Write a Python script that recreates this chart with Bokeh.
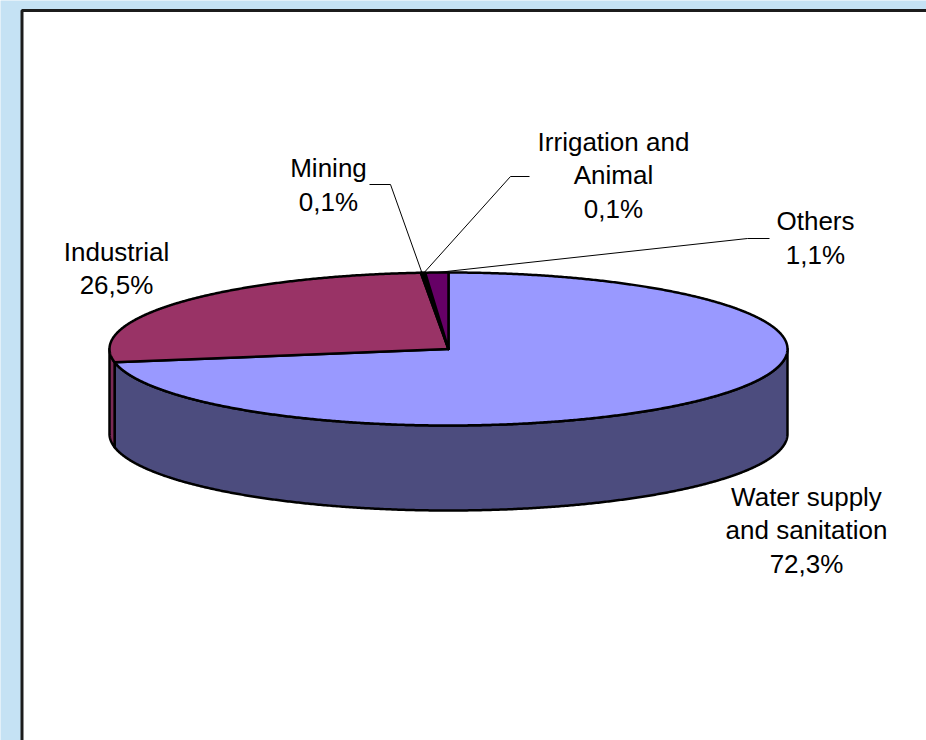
import numpy as np
from bokeh.plotting import figure
from bokeh.models import Range1d
from bokeh.core.properties import value
from bokeh.embed import file_html
from bokeh.resources import INLINE

# ---- data ----
categories = ["Water supply\nand sanitation", "Industrial", "Mining",
              "Irrigation and\nAnimal", "Others"]
shares = [72.3, 26.5, 0.1, 0.1, 1.1]

# ---- style ----
top_colors = ["#9999ff", "#993366", "#ffffcc", "#ccffff", "#660066"]
side_colors = ["#4c4c7e", "#7a2a55", "#7f7f66", "#667f7f", "#330033"]
PAGE_BG = "#c5e2f4"

# ---- layout (page pixel space) ----
CX, CY, RX, RY, DEPTH = 448, 348.5, 339, 76.5, 85
label_pos = [(806, 530), (116, 268), (328, 184.5), (613, 175), (815, 237.5)]
leader_elbows = [None, None,
                 [(369, 184), (390, 184)],
                 [(529, 176), (510, 176)],
                 [(769, 238), (747, 238)]]

W, H = 926, 740
p = figure(width=W, height=H, output_backend="svg", toolbar_location=None,
           x_range=Range1d(0, W), y_range=Range1d(H, 0),
           x_axis_type=None, y_axis_type=None, min_border=0)
p.grid.visible = False
p.outline_line_color = None
p.background_fill_color = PAGE_BG
p.border_fill_color = PAGE_BG

# white chart area with dark frame (extends past right/bottom edge)
p.quad(left=[21.5], right=[1200], top=[10], bottom=[1200],
       fill_color="white", line_color="#1c1c1c", line_width=3)

total = sum(shares)
bounds = np.concatenate([[0], np.cumsum(shares) / total * 360.0])


def pt(theta_deg, dy=0.0):
    t = np.radians(theta_deg)
    return CX + RX * np.sin(t), CY - RY * np.cos(t) + dy


# side walls (front half: 90..270 deg)
for i in range(len(shares)):
    a0, a1 = max(bounds[i], 90.0), min(bounds[i + 1], 270.0)
    if a1 <= a0:
        continue
    th = np.linspace(a0, a1, max(3, int((a1 - a0) * 3)))
    xt, yt = pt(th)
    xb, yb = pt(th[::-1], DEPTH)
    xs = np.concatenate([xt, xb])
    ys = np.concatenate([yt, yb])
    p.patch(xs, ys, fill_color=side_colors[i], line_color="black",
            line_width=2.5, line_join="round")

# top faces
for i in range(len(shares)):
    a0, a1 = bounds[i], bounds[i + 1]
    th = np.linspace(a0, a1, max(3, int((a1 - a0) * 3)))
    xa, ya = pt(th)
    xs = np.concatenate([[CX], xa])
    ys = np.concatenate([[CY], ya])
    p.patch(xs, ys, fill_color=top_colors[i], line_color="black",
            line_width=2.5, line_join="round")

# leader lines
lx, ly = [], []
for i in range(len(shares)):
    if leader_elbows[i] is None:
        continue
    mid = (bounds[i] + bounds[i + 1]) / 2
    ex, ey = pt(mid)
    pts = leader_elbows[i] + [(ex, ey)]
    lx.append([q[0] for q in pts])
    ly.append([q[1] for q in pts])
p.multi_line(lx, ly, line_color="black", line_width=1)

# labels
texts = [f"{c}\n{s:.1f}%".replace(".", ",") for c, s in zip(categories, shares)]
p.text(x=[q[0] for q in label_pos], y=[q[1] for q in label_pos], text=texts,
       text_font=value("Liberation Sans"), text_font_size="26px",
       text_align="center", text_baseline="middle", text_line_height=1.13,
       text_color="black")

html = file_html(p, INLINE)
html = html.replace("<body>", '<body style="background-color:%s">' % PAGE_BG, 1)
open("out.html", "w").write(html)
